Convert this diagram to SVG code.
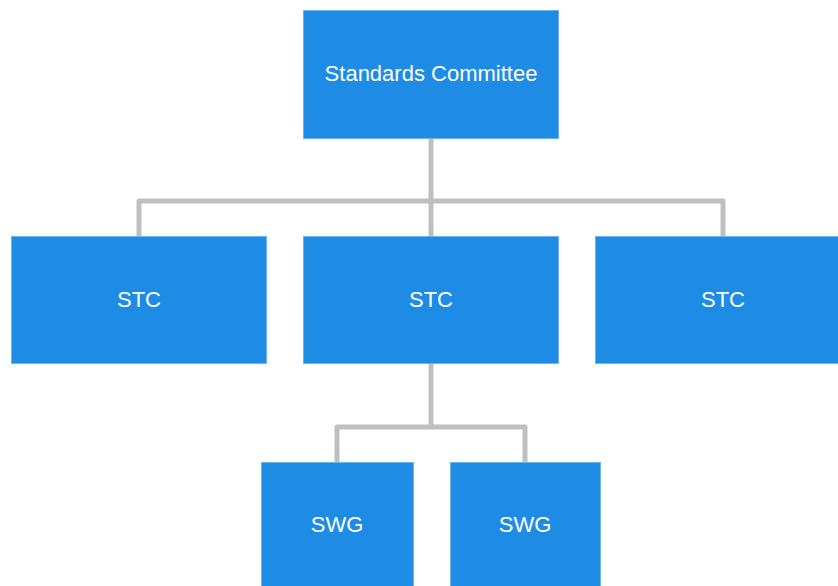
<svg xmlns="http://www.w3.org/2000/svg" width="838" height="586" viewBox="0 0 838 586">
<style>
.box{fill:#1e8be4;stroke:#6fb3ee;stroke-width:1}
.lbl{fill:#ffffff;font-family:"Liberation Sans",Arial,sans-serif;font-size:22px;text-anchor:middle}
.edge{fill:none;stroke:#bfbfbf;stroke-width:5;stroke-linejoin:round;stroke-linecap:round}
</style>
<rect width="838" height="586" fill="#ffffff"/>
<g id="connectors">
<path class="edge" d="M431,139 V201 M139,236 V201 H723 V236 M431,201 V236"/>
<path class="edge" d="M431,364 V427 M337,462 V427 H525 V462"/>
</g>
<g id="node-sc"><rect class="box" x="303.5" y="10.5" width="255" height="128"/><text class="lbl" x="431" y="81">Standards Committee</text></g>
<g id="node-stc1"><rect class="box" x="11.5" y="236.5" width="255" height="127"/><text class="lbl" x="139" y="307">STC</text></g>
<g id="node-stc2"><rect class="box" x="303.5" y="236.5" width="255" height="127"/><text class="lbl" x="431" y="307">STC</text></g>
<g id="node-stc3"><rect class="box" x="595.5" y="236.5" width="255" height="127"/><text class="lbl" x="723" y="307">STC</text></g>
<g id="node-swg1"><rect class="box" x="261.5" y="462.5" width="152" height="140"/><text class="lbl" x="337" y="532">SWG</text></g>
<g id="node-swg2"><rect class="box" x="450.5" y="462.5" width="150" height="140"/><text class="lbl" x="525" y="532">SWG</text></g>
</svg>
